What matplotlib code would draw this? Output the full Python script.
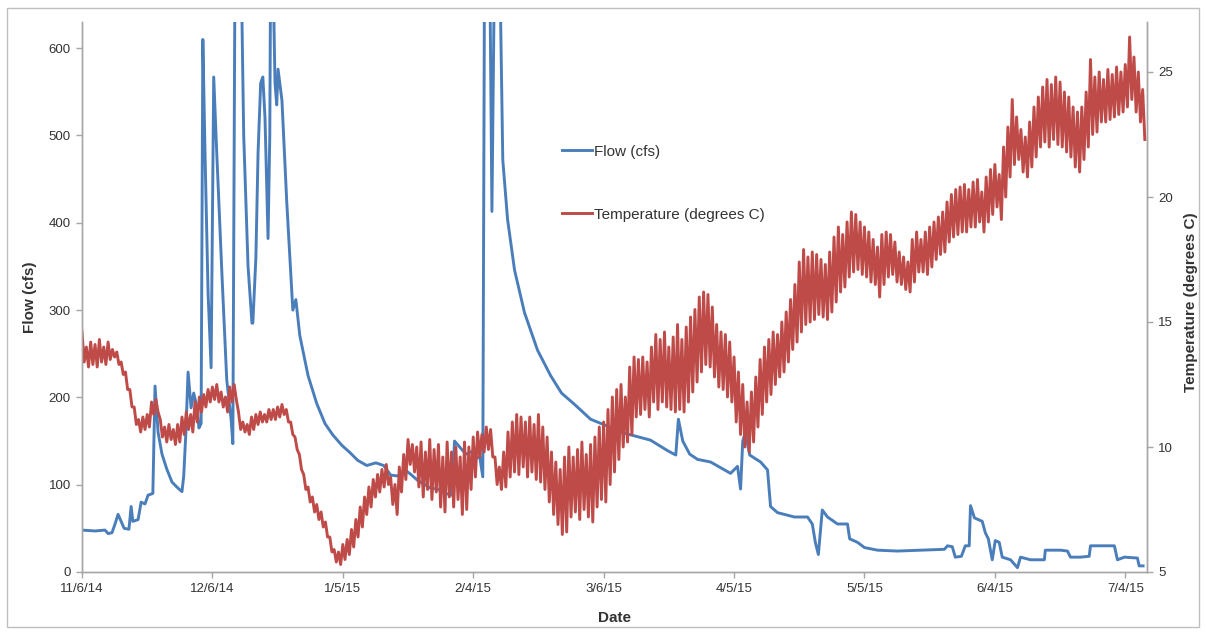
import numpy as np
import pandas as pd
import matplotlib
matplotlib.use('Agg')
import matplotlib.pyplot as plt
from matplotlib.patches import Rectangle

plt.rcParams['font.family'] = ['Liberation Sans', 'DejaVu Sans']

start = pd.Timestamp('2014-11-06')

# flow record: days since 11/6/14 and discharge (cfs)
flow_day = [0, 3, 5.3, 6, 6.9, 7.6, 8.3, 9, 9.7, 10.8, 11.3, 11.7, 12.9, 13.6, 14.5, 15.2,
            16.3, 16.8, 17.5, 18.4, 19.5, 20.7, 22.1, 23, 23.4, 23.9, 24.4, 25.1, 25.7,
            26.4, 26.9, 27.4, 27.8, 28.3, 29, 29.7, 30.3, 31, 32.2, 33.3, 34.3, 34.7,
            35.2, 35.9, 36.6, 37.2, 38.2, 39.1, 39.3, 40, 40.5, 41.1, 41.6, 42.1, 42.8,
            43.2, 43.4, 43.9, 44.4, 44.8, 45.1, 46, 47.1, 48.5, 49.2, 50.1, 52, 54, 55.9,
            57.7, 59.8, 61.6, 63.4, 65.5, 67.6, 69.4, 71, 72.6, 74.3, 75.6, 77.2, 78.9,
            80.2, 81.8, 83.7, 85.1, 85.7, 86.9, 88.3, 89.7, 90.6, 91.5, 92.2, 92.6, 93.8,
            94.3, 94.9, 96.1, 96.8, 97.9, 99.5, 101.8, 104.8, 107.8, 110.3, 113.3, 117,
            120.9, 124.8, 127.8, 130.8, 134.7, 136.6, 137.2, 138.2, 139.8, 141.6, 144.6,
            147.8, 149.2, 150.8, 151.5, 152, 152.6, 153.6, 156.1, 157.7, 158.4, 160,
            163.9, 166.9, 168, 168.7, 169.4, 170.3, 171.5, 173.8, 176.1, 176.6, 178.4,
            180, 183, 187.6, 193.1, 198.4, 199.1, 200.2, 200.9, 202.3, 203.2, 204.1,
            204.4, 205.3, 207.1, 207.8, 208.5, 209.4, 210.1, 211, 211.7, 213.6, 215.2,
            215.9, 218.2, 221.4, 221.6, 225.1, 226.7, 227.4, 229.7, 231.7, 232, 237.5,
            238.2, 239.8, 242.8, 243.2, 244.1]
flow_cfs = [48, 47, 48, 44, 45, 55, 66, 58, 50, 49, 75, 58, 60, 80, 78, 88,
            90, 213, 160, 135, 118, 103, 96, 92, 110, 160, 229, 188, 205,
            190, 165, 170, 610, 480, 320, 234, 567, 480, 340, 220, 175, 147,
            700, 720, 700, 500, 350, 285, 285, 360, 480, 560, 567, 520, 382,
            500, 700, 700, 560, 535, 576, 540, 424, 300, 312, 271, 225, 193, 170,
            157, 145, 137, 128, 122, 125, 122, 111, 110, 117, 112, 105, 100,
            96, 95, 90, 88, 150, 143, 135, 138, 130, 132, 109, 700, 700,
            413, 700, 700, 472, 404, 346, 297, 254, 225, 205, 192, 175,
            167, 159, 155, 151, 139, 134, 175, 150, 135, 129, 126,
            117, 113, 121, 95, 150, 160, 134, 126, 117, 75, 68,
            63, 63, 55, 34, 20, 71, 63, 55, 55, 38, 34,
            28, 25, 24, 25, 26, 30, 29, 17, 18, 30, 30,
            76, 62, 58, 45, 38, 14, 36, 34, 17, 14, 5,
            17, 14, 14, 25, 25, 24, 17, 17, 18, 30, 30,
            14, 17, 16, 7, 7]

# daily high / low water temperature (degrees C), one value per day from 11/6/14
temp_hi = [14.6, 14.0, 14.2, 14.1, 14.3, 14.0, 14.2, 13.9, 13.8, 13.4,
           13.0, 12.3, 11.6, 11.1, 11.2, 11.3, 11.8, 11.9, 11.1, 10.8,
           10.9, 10.7, 10.9, 11.2, 11.4, 11.3, 11.8, 12.0, 12.1, 12.3,
           12.4, 12.5, 12.2, 12.0, 12.4, 12.5, 11.4, 11.0, 10.9, 11.2,
           11.3, 11.4, 11.3, 11.5, 11.5, 11.6, 11.7, 11.5, 11.0, 10.4,
           9.7, 8.9, 8.4, 8.0, 7.7, 7.4, 7.0, 6.4, 5.9, 5.8,
           6.1, 6.3, 6.7, 7.1, 7.6, 8.0, 8.4, 8.7, 8.9, 9.1,
           9.3, 8.8, 8.5, 9.2, 9.7, 10.3, 10.1, 10.0, 10.2, 9.8,
           10.3, 9.9, 10.1, 9.6, 10.2, 9.8, 10.0, 9.6, 10.2, 10.0,
           10.4, 10.6, 10.5, 10.8, 10.7, 9.6, 9.2, 9.8, 10.6, 11.0,
           11.3, 11.2, 11.0, 11.2, 10.9, 11.3, 10.8, 10.4, 9.8, 9.4,
           9.1, 9.6, 10.0, 9.6, 9.9, 10.2, 9.7, 10.1, 10.4, 10.8,
           11.0, 11.5, 12.0, 12.3, 12.5, 12.0, 13.2, 13.6, 13.5, 13.6,
           13.4, 14.0, 14.5, 14.3, 14.6, 14.0, 14.4, 14.9, 14.3, 14.8,
           15.2, 15.5, 16.0, 16.2, 16.1, 15.6, 14.9, 14.6, 14.5, 14.2,
           13.6, 13.0, 12.5, 11.8, 12.2, 12.8, 13.5, 14.0, 14.3, 14.6,
           14.5, 15.0, 15.4, 15.9, 16.5, 17.4, 17.9, 17.6, 17.8, 17.7,
           17.5, 17.3, 17.8, 18.4, 18.8, 18.5, 19.0, 19.4, 19.3, 19.0,
           18.8, 18.6, 18.3, 18.0, 18.5, 18.6, 18.5, 18.2, 17.8, 17.6,
           17.4, 18.3, 18.6, 18.3, 18.6, 18.8, 19.0, 19.2, 19.4, 19.8,
           20.1, 20.3, 20.4, 20.5, 20.3, 20.6, 20.7, 20.2, 20.8, 21.1,
           21.3, 20.9, 22.0, 22.8, 23.9, 23.2, 22.7, 22.4, 23.0, 23.6,
           24.0, 24.4, 24.7, 24.5, 24.8, 24.6, 24.2, 24.0, 23.6, 23.4,
           23.6, 24.2, 25.5, 24.8, 25.0, 24.7, 25.1, 24.9, 25.2, 25.0,
           25.3, 26.4, 25.6, 25.0, 24.3]
temp_lo = [13.4, 13.2, 13.3, 13.2, 13.4, 13.3, 13.5, 13.6, 13.3, 12.9,
           12.3, 11.6, 10.9, 10.6, 10.7, 10.8, 11.3, 11.4, 10.4, 10.2,
           10.3, 10.1, 10.2, 10.5, 10.7, 10.6, 11.0, 11.4, 11.6, 11.8,
           11.9, 11.8, 11.6, 11.4, 11.8, 11.9, 10.7, 10.6, 10.5, 10.7,
           10.9, 11.0, 11.0, 11.1, 11.1, 11.2, 11.3, 11.0, 10.5, 9.9,
           9.1, 8.3, 7.8, 7.4, 7.1, 6.8, 6.4, 5.8, 5.4, 5.3,
           5.5, 5.7, 6.0, 6.4, 6.8, 7.3, 7.6, 8.0, 8.2, 8.4,
           8.5, 7.7, 7.3, 8.2, 8.7, 9.3, 9.0, 8.4, 8.0, 8.3,
           7.9, 8.2, 7.6, 7.4, 8.0, 7.6, 7.9, 7.3, 7.5, 8.3,
           8.8, 9.6, 9.8, 9.9, 9.6, 8.5, 8.3, 8.4, 8.8, 9.0,
           8.9, 9.2, 8.8, 9.0, 8.7, 8.6, 8.3, 7.8, 7.3, 6.9,
           6.5, 6.6, 7.2, 7.4, 7.1, 7.5, 7.2, 7.0, 7.6, 7.9,
           7.8, 8.5, 9.0, 9.5, 10.0, 10.2, 10.5, 11.2, 11.3, 11.5,
           11.2, 11.8, 11.5, 11.8, 11.6, 11.5, 11.4, 11.5, 11.4, 11.8,
           12.2, 12.6, 13.0, 13.3, 13.2, 12.8, 12.4, 12.3, 12.0, 11.8,
           11.0, 10.5, 10.0, 9.8, 10.2, 10.8, 11.3, 11.8, 12.1, 12.5,
           12.8, 13.0, 13.4, 13.9, 14.2, 14.6, 14.9, 15.0, 15.1, 15.3,
           15.2, 15.1, 15.4, 15.8, 16.2, 16.4, 16.8, 17.0, 17.1, 16.9,
           16.8, 16.6, 16.5, 16.0, 16.5, 16.8, 16.9, 16.6, 16.5, 16.3,
           16.2, 16.6, 17.0, 17.0, 16.9, 17.2, 17.5, 17.7, 17.8, 18.2,
           18.4, 18.5, 18.6, 18.6, 18.8, 18.8, 19.0, 18.6, 19.0, 19.3,
           19.6, 19.1, 20.0, 20.8, 21.3, 21.5, 21.0, 20.8, 21.2, 21.6,
           22.0, 22.2, 22.0, 22.3, 22.1, 22.0, 21.8, 21.6, 21.2, 21.0,
           21.5, 22.0, 22.5, 22.6, 23.0, 23.0, 23.1, 23.2, 23.3, 23.4,
           23.6, 23.9, 23.4, 23.0, 22.3]

flow_t = start + pd.to_timedelta(flow_day, unit='D')

# afternoon high then overnight low for each day
days = np.arange(len(temp_hi))
temp_t = start + pd.to_timedelta(np.column_stack([days, days + 0.5]).ravel(), unit='D')
temp_c = np.column_stack([temp_hi, temp_lo]).ravel()

tick_dates = pd.date_range(start, periods=9, freq='30D')
tick_labels = [f'{d.month}/{d.day}/{d.strftime("%y")}' for d in tick_dates]

axis_grey = '#A6A6A6'
text_col = '#333333'

fig = plt.figure(figsize=(12.06, 6.32), dpi=100)
fig.add_artist(Rectangle((7 / 1206, 5 / 632), 1192 / 1206, 619 / 632,
                         transform=fig.transFigure, fill=False,
                         edgecolor='#BFBFBF', lw=1))

ax = fig.add_axes([82 / 1206, 60 / 632, 1065 / 1206, 550 / 632])
ax2 = ax.twinx()

l1, = ax.plot(flow_t, flow_cfs, color='#4A7EBB', lw=2.1, label='Flow (cfs)')
l2, = ax2.plot(temp_t, temp_c, color='#BE4B48', lw=2.1,
               label='Temperature (degrees C)')

ax.set_xlim(start, start + pd.Timedelta(days=245))
ax.set_ylim(0, 630)
ax2.set_ylim(5, 27)
ax.set_yticks(range(0, 601, 100))
ax2.set_yticks([5, 10, 15, 20, 25])
ax.set_xticks(tick_dates)
ax.set_xticklabels(tick_labels)

for a in (ax, ax2):
    a.spines['top'].set_visible(False)
    for s in ('left', 'right', 'bottom'):
        a.spines[s].set_color(axis_grey)
        a.spines[s].set_linewidth(1)
    a.tick_params(direction='out', length=4, width=1, color=axis_grey,
                  labelsize=9.5, labelcolor=text_col, pad=4)

ax.set_ylabel('Flow (cfs)', fontsize=11, fontweight='bold', color=text_col)
ax.yaxis.set_label_coords(-0.042, 0.50)
ax2.set_ylabel('Temperature (degrees C)', fontsize=11, fontweight='bold',
               color=text_col)
ax2.yaxis.set_label_coords(1.035, 0.49)
ax.set_xlabel('Date', fontsize=11, fontweight='bold', color=text_col)
ax.xaxis.set_label_coords(0.5, -0.07)

fig.legend([l1, l2], [l1.get_label(), l2.get_label()], loc='upper left',
           bbox_to_anchor=(554 / 1206, 1 - 137 / 632), frameon=False,
           fontsize=11, handlelength=2.0, handletextpad=0.1, borderpad=0,
           labelspacing=3.2, labelcolor=text_col)

fig.savefig('out.png', dpi=100)
